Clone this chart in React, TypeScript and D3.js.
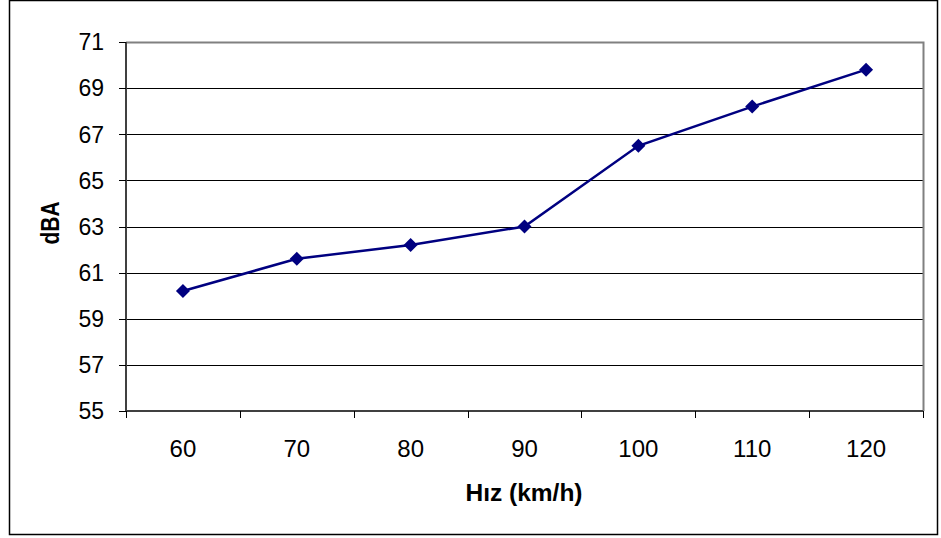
import React from "react";
import * as d3 from "d3";

const speeds = ["60", "70", "80", "90", "100", "110", "120"];
const dba = [60.2, 61.6, 62.2, 63.0, 66.5, 68.2, 69.8];
const yTicks = [55, 57, 59, 61, 63, 65, 67, 69, 71];

const W = 941;
const H = 538;
const plot = { left: 126, top: 42, right: 923, bottom: 411 };

export default function App() {
  const x = d3.scaleBand().domain(speeds).range([plot.left, plot.right]);
  const y = d3.scaleLinear().domain([55, 71]).range([plot.bottom, plot.top]);

  const path = d3
    .line<number>()
    .x((_, i) => (x(speeds[i]) as number) + x.bandwidth() / 2)
    .y((d) => y(d))(dba);

  // category boundaries for x ticks
  const bounds = speeds.map((s) => x(s) as number).concat([plot.right]);

  const font = "Arial, 'Liberation Sans', sans-serif";

  return (
    <svg
      width={W}
      height={H}
      style={{ position: "absolute", left: 0, top: 0 }}
      fontFamily={font}
    >
      <rect x={0} y={0} width={W} height={H} fill="#fff" />
      {/* outer frame */}
      <rect x={9.5} y={0.5} width={928} height={534} fill="none" stroke="#000" strokeWidth={1.5} />

      {/* gridlines */}
      {yTicks.slice(1, -1).map((t) => (
        <line key={t} x1={plot.left} x2={plot.right} y1={Math.round(y(t)) + 0.5} y2={Math.round(y(t)) + 0.5} stroke="#000" strokeWidth={1} />
      ))}

      {/* plot border top/right */}
      <path
        d={`M${plot.left},${plot.top + 0.5}H${plot.right + 0.5}V${plot.bottom}`}
        fill="none"
        stroke="#808080"
        strokeWidth={2}
      />

      {/* y axis */}
      <line x1={plot.left} x2={plot.left} y1={plot.top} y2={plot.bottom} stroke="#404040" strokeWidth={2} />
      {yTicks.map((t) => (
        <g key={t}>
          <line x1={plot.left - 7} x2={plot.left} y1={Math.round(y(t)) + 0.5} y2={Math.round(y(t)) + 0.5} stroke="#000" />
          <text x={104} y={y(t)} dy="0.36em" textAnchor="end" fontSize={23} fill="#000">
            {t}
          </text>
        </g>
      ))}

      {/* x axis */}
      <line x1={plot.left} x2={plot.right} y1={plot.bottom} y2={plot.bottom} stroke="#404040" strokeWidth={2} />
      {bounds.map((b, i) => (
        <line key={i} x1={Math.round(b) + 0.5} x2={Math.round(b) + 0.5} y1={plot.bottom} y2={plot.bottom + 7} stroke="#000" />
      ))}
      {speeds.map((s) => (
        <text key={s} x={(x(s) as number) + x.bandwidth() / 2} y={448} dy="0.36em" textAnchor="middle" fontSize={24} fill="#000">
          {s}
        </text>
      ))}

      {/* series */}
      <path d={path ?? ""} fill="none" stroke="#000080" strokeWidth={2.5} />
      {dba.map((v, i) => {
        const cx = (x(speeds[i]) as number) + x.bandwidth() / 2;
        const cy = y(v);
        const r = 7;
        return (
          <path key={i} d={`M${cx},${cy - r}L${cx + r},${cy}L${cx},${cy + r}L${cx - r},${cy}Z`} fill="#000080" />
        );
      })}

      {/* titles */}
      <text x={524} y={501} textAnchor="middle" fontSize={24.5} fontWeight="bold" fill="#000">
        Hız (km/h)
      </text>
      <text transform={`translate(59,223) rotate(-90) scale(1,1.22)`} textAnchor="middle" fontSize={21} fontWeight="bold" fill="#000">
        dBA
      </text>
    </svg>
  );
}
